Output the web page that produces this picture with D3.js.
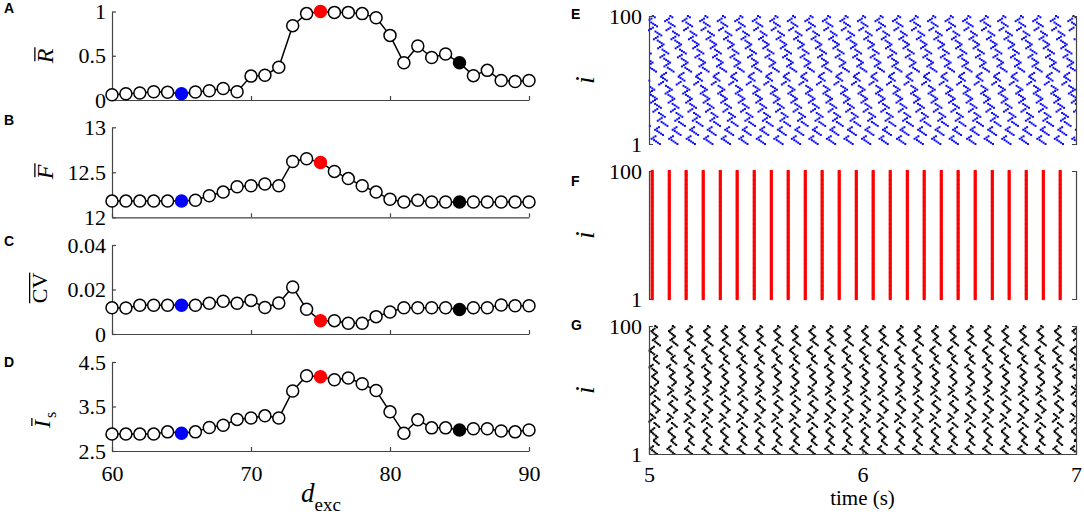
<!DOCTYPE html>
<html>
<head>
<meta charset="utf-8">
<script src="https://cdn.jsdelivr.net/npm/d3@7"></script>
<style>
  body { margin: 0; background: #fff; }
  svg { display: block; }
</style>
</head>
<body>
<div id="vis"></div>
<script>
  // excitatory distance values (x axis of panels A-D)
  var dExc = [60, 61, 62, 63, 64, 65, 66, 67, 68, 69, 70, 71, 72, 73, 74, 75,
              76, 77, 78, 79, 80, 81, 82, 83, 84, 85, 86, 87, 88, 89, 90];

  // A: mean order parameter
  var rBar = [0.06, 0.07, 0.08, 0.094, 0.087, 0.07, 0.09, 0.105, 0.13, 0.094, 0.27,
              0.28, 0.37, 0.84, 0.976, 1.0, 0.99, 0.99, 0.976, 0.93, 0.73,
              0.42, 0.61, 0.48, 0.52, 0.42, 0.275, 0.335, 0.22, 0.21, 0.22];
  // B: mean firing rate
  var fBar = [12.18, 12.18, 12.18, 12.18, 12.18, 12.18, 12.19, 12.24, 12.28, 12.34, 12.35,
              12.37, 12.35, 12.62, 12.65, 12.61, 12.51, 12.43, 12.35, 12.28, 12.20,
              12.17, 12.19, 12.17, 12.17, 12.17, 12.17, 12.17, 12.17, 12.17, 12.17];
  // C: mean coefficient of variation
  var cvBar = [0.0118, 0.0117, 0.0129, 0.0129, 0.0129, 0.0129, 0.0129, 0.0138, 0.0147, 0.0138, 0.0151,
               0.0119, 0.0139, 0.0211, 0.0111, 0.006, 0.006, 0.0048, 0.0048, 0.0078, 0.0099,
               0.0118, 0.0118, 0.0118, 0.0118, 0.011, 0.0118, 0.0118, 0.013, 0.0127, 0.0127];
  // D: mean synaptic current
  var isBar = [2.88, 2.88, 2.88, 2.88, 2.93, 2.90, 2.93, 3.03, 3.08, 3.21, 3.24,
               3.29, 3.24, 3.85, 4.19, 4.17, 4.10, 4.14, 4.01, 3.86, 3.38,
               2.90, 3.20, 3.02, 3.02, 2.97, 3.00, 3.00, 2.95, 2.93, 2.97];

  // highlighted parameter values and their colours
  var markedX = [65, 75, 85];
  var markedColor = ["#0000ff", "#ff0000", "#000000"];

  // rasters E-G: neurons 1..100, time 5..7 s
  // E (d = 65) and G (d = 85): phase of each neuron inside one firing period
  var phaseE = [0.62, 0.51, 0.40, 0.29, 0.15, 0.26, 0.37, 0.80, 0.69, 0.58,
                0.47, 0.35, 0.46, 0.57, 0.05, 0.94, 0.83, 0.72, 0.50, 0.61,
                0.72, 0.90, 0.79, 0.68, 0.57, 0.25, 0.36, 0.47, 0.68, 0.57,
                0.46, 0.35, 0.12, 0.23, 0.34, 0.44, 0.33, 0.22, 0.11, 0.95,
                0.06, 0.17, 0.30, 0.19, 0.08, 0.97, 0.58, 0.69, 0.80, 0.02,
                0.91, 0.80, 0.69, 0.75, 0.86, 0.97, 0.40, 0.29, 0.18, 0.07,
                0.88, 0.99, 0.10, 0.20, 0.09, 0.98, 0.87, 0.65, 0.76, 0.87,
                0.10, 0.99, 0.88, 0.77, 0.52, 0.63, 0.74, 0.83, 0.72, 0.61,
                0.50, 0.28, 0.39, 0.50, 0.70, 0.59, 0.48, 0.37, 0.00, 0.11,
                0.22, 0.46, 0.35, 0.24, 0.13, 0.92, 0.03, 0.14, 0.33, 0.22];
  var phaseG = [0.45, 0.36, 0.27, 0.18, 0.05, 0.14, 0.23, 0.55, 0.46, 0.37,
                0.28, 0.30, 0.39, 0.48, 0.40, 0.31, 0.22, 0.13, 0.12, 0.21,
                0.30, 0.58, 0.49, 0.40, 0.31, 0.02, 0.11, 0.20, 0.35, 0.26,
                0.17, 0.08, 0.42, 0.51, 0.60, 0.50, 0.41, 0.32, 0.23, 0.15,
                0.24, 0.33, 0.60, 0.51, 0.42, 0.33, 0.08, 0.17, 0.26, 0.38,
                0.29, 0.20, 0.11, 0.33, 0.42, 0.51, 0.52, 0.43, 0.34, 0.25,
                0.18, 0.27, 0.36, 0.46, 0.37, 0.28, 0.19, 0.03, 0.12, 0.21,
                0.56, 0.47, 0.38, 0.29, 0.28, 0.37, 0.46, 0.30, 0.21, 0.12,
                0.03, 0.10, 0.19, 0.28, 0.62, 0.53, 0.44, 0.35, 0.22, 0.31,
                0.40, 0.48, 0.39, 0.30, 0.21, 0.14, 0.23, 0.32, 0.45, 0.36];
  // F (d = 75): all neurons fire together at these times (s)
  var spikeTimesF = [5.015, 5.095, 5.174, 5.254, 5.334, 5.413, 5.493, 5.573, 5.652,
                     5.732, 5.811, 5.891, 5.971, 6.050, 6.130, 6.210, 6.289, 6.369,
                     6.448, 6.528, 6.608, 6.687, 6.767, 6.847, 6.926];

  var serif = "'Liberation Serif', 'Times New Roman', serif";
  var axisColor = "#444";

  var svg = d3.select("#vis")
    .append("svg")
      .attr("width", 1084)
      .attr("height", 517);

  // ---------- left column: A-D ----------
  var x = d3.scaleLinear().domain([60, 90]).range([112, 529]);

  var panels = [
    {letter: "A", letterY: 13, values: rBar, domain: [0, 1], range: [100, 11.5], ticks: [0, 0.5, 1]},
    {letter: "B", letterY: 125, values: fBar, domain: [12, 13], range: [217.3, 127.3], ticks: [12, 12.5, 13]},
    {letter: "C", letterY: 246, values: cvBar, domain: [0, 0.04], range: [334, 245], ticks: [0, 0.02, 0.04]},
    {letter: "D", letterY: 367, values: isBar, domain: [2.5, 4.5], range: [451, 362], ticks: [2.5, 3.5, 4.5]}
  ];

  function styleAxis(g) {
    g.attr("font-family", serif).attr("font-size", 22);
    g.select(".domain").attr("stroke", axisColor).attr("stroke-width", 1.2);
    g.selectAll(".tick line").attr("stroke", axisColor).attr("stroke-width", 1.2);
    g.selectAll("text")
      .attr("fill", "#000")
      .style("font-family", serif)
      .style("font-size", "22px");
  }

  panels.forEach(function(p, pi) {
    var y = d3.scaleLinear().domain(p.domain).range(p.range);

    svg.append("g")
      .attr("transform", "translate(0," + p.range[0] + ")")
      .call(d3.axisBottom(x).tickValues([60, 70, 80, 90]).tickSize(-4).tickSizeOuter(0)
        .tickPadding(14)
        .tickFormat(pi == 3 ? d3.format("d") : function() { return ""; }))
      .call(styleAxis);

    svg.append("g")
      .attr("transform", "translate(" + x(60) + ",0)")
      .call(d3.axisLeft(y).tickValues(p.ticks).tickSize(-4).tickSizeOuter(0).tickPadding(6)
        .tickFormat(function(d) { return String(d); }))
      .call(styleAxis);

    var pts = dExc.map(function(d, k) { return [d, p.values[k]]; });

    svg.append("path")
      .datum(pts)
      .attr("fill", "none")
      .attr("stroke", "#000")
      .attr("stroke-width", 1.5)
      .attr("d", d3.line().x(function(d) { return x(d[0]); }).y(function(d) { return y(d[1]); }));

    svg.selectAll(null)
      .data(pts)
      .enter()
      .append("circle")
        .attr("cx", function(d) { return x(d[0]); })
        .attr("cy", function(d) { return y(d[1]); })
        .attr("r", 6)
        .attr("fill", function(d) {
          var m = markedX.indexOf(d[0]);
          return m < 0 ? "#fff" : markedColor[m];
        })
        .attr("stroke", function(d) {
          var m = markedX.indexOf(d[0]);
          return m < 0 ? "#000" : markedColor[m];
        })
        .attr("stroke-width", 1.5);

    svg.append("text")
      .attr("x", 4)
      .attr("y", p.letterY)
      .style("font-family", "'Liberation Sans', Arial, sans-serif")
      .style("font-weight", "bold")
      .style("font-size", "14px")
      .text(p.letter);
  });

  // rotated y label with an overbar over the main symbol
  function barLabel(cx, cy, main, italic, size, sub) {
    var g = svg.append("g").attr("transform", "translate(" + cx + "," + cy + ") rotate(-90)");
    var t = g.append("text")
      .attr("text-anchor", "middle")
      .style("font-family", serif)
      .style("font-size", size + "px")
      .style("font-style", italic ? "italic" : "normal")
      .text(main);
    var bb = t.node().getBBox();
    var top = bb.y + size * 0.12;
    g.append("line")
      .attr("x1", bb.x + (italic ? 3 : 0))
      .attr("x2", bb.x + bb.width + (italic ? 1 : 0))
      .attr("y1", top)
      .attr("y2", top)
      .attr("stroke", "#000")
      .attr("stroke-width", 1.3);
    if (sub) {
      g.append("text")
        .attr("x", bb.x + bb.width + 1)
        .attr("y", 6)
        .style("font-family", serif)
        .style("font-size", "16px")
        .text(sub);
    }
  }

  barLabel(53, 56, "R", true, 24);
  barLabel(53, 172, "F", true, 24);
  barLabel(47, 288, "CV", false, 22);
  barLabel(50, 424, "I", true, 24, "s");

  // x label d_exc
  var xl = svg.append("text")
    .attr("x", 301)
    .attr("y", 502)
    .style("font-family", serif);
  xl.append("tspan").style("font-style", "italic").style("font-size", "27px").text("d");
  xl.append("tspan").attr("dy", 9).style("font-size", "19px").text("exc");

  // ---------- right column: E-G ----------
  var tx = d3.scaleLinear().domain([5, 7]).range([649, 1076]);

  var rasters = [
    {letter: "E", letterY: 19, top: 16, bottom: 144, color: "#0a0aff", phase: phaseE, rate: fBar[dExc.indexOf(65)]},
    {letter: "F", letterY: 186, top: 171, bottom: 299, color: "#ff0000", times: spikeTimesF},
    {letter: "G", letterY: 330, top: 326, bottom: 454, color: "#000000", phase: phaseG, rate: fBar[dExc.indexOf(85)]}
  ];

  rasters.forEach(function(r, ri) {
    var y = d3.scaleLinear().domain([1, 100]).range([r.bottom, r.top]);

    var spikes = [];
    if (r.times) {
      r.times.forEach(function(t) {
        for (var i = 1; i <= 100; i++) spikes.push([t, i]);
      });
    } else {
      var period = 1 / r.rate;
      r.phase.forEach(function(ph, k) {
        for (var t = 5 + ph * period; t <= 7; t += period) spikes.push([t, k + 1]);
      });
    }

    var w = r.times ? 3 : 2;
    var h = r.times ? 2.2 : 2;
    svg.append("g")
      .selectAll("rect")
      .data(spikes)
      .enter()
      .append("rect")
        .attr("x", function(d) { return tx(d[0]) - w / 2; })
        .attr("y", function(d) { return y(d[1]) - h / 2; })
        .attr("width", w)
        .attr("height", h)
        .attr("fill", r.color);

    svg.append("g")
      .attr("transform", "translate(" + tx(5) + ",0)")
      .call(d3.axisLeft(y).tickValues([1, 100]).tickSize(0).tickSizeOuter(-4).tickPadding(7)
        .tickFormat(d3.format("d")))
      .call(styleAxis);

    svg.append("g")
      .attr("transform", "translate(" + tx(7) + ",0)")
      .call(d3.axisRight(y).tickValues([]).tickSizeOuter(-4))
      .call(styleAxis);

    if (ri == 2) {
      svg.append("g")
        .attr("transform", "translate(0," + r.bottom + ")")
        .call(d3.axisBottom(tx).tickValues([5, 6, 7]).tickSize(-4).tickSizeOuter(0).tickPadding(12)
          .tickFormat(d3.format("d")))
        .call(styleAxis);
    }

    svg.append("text")
      .attr("x", 571)
      .attr("y", r.letterY)
      .style("font-family", "'Liberation Sans', Arial, sans-serif")
      .style("font-weight", "bold")
      .style("font-size", "14px")
      .text(r.letter);

    svg.append("text")
      .attr("transform", "translate(594," + ((r.top + r.bottom) / 2) + ") rotate(-90)")
      .attr("text-anchor", "middle")
      .style("font-family", serif)
      .style("font-style", "italic")
      .style("font-size", "28px")
      .text("i");
  });

  svg.append("text")
    .attr("x", tx(6))
    .attr("y", 505)
    .attr("text-anchor", "middle")
    .style("font-family", serif)
    .style("font-size", "21px")
    .text("time (s)");
</script>
</body>
</html>
